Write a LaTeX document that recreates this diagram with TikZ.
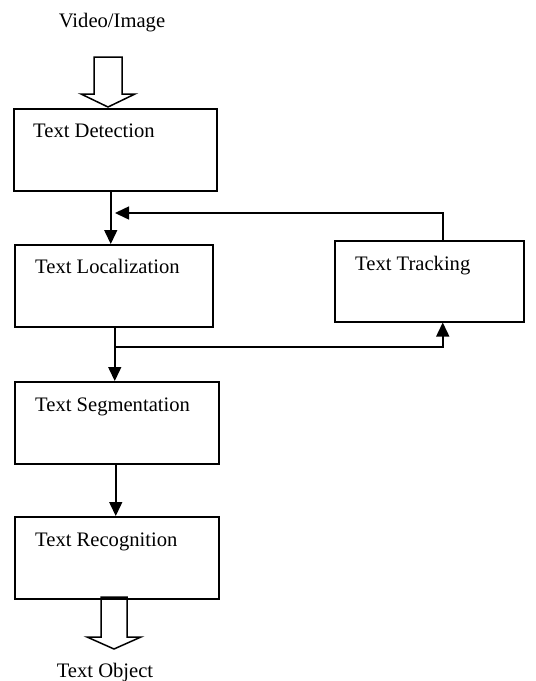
\documentclass[tikz,border=0pt]{standalone}
\usepackage{fontspec}
\setmainfont{Liberation Serif}
\usetikzlibrary{arrows.meta}

\begin{document}
\begin{tikzpicture}[x=1pt, y=-1pt,
  stage/.style={draw, line width=1.5pt, minimum width=#1, minimum height=82pt, anchor=north west, inner sep=0pt},
  caption/.style={font=\fontsize{20.6}{24}\selectfont, inner sep=0pt},
  flow/.style={line width=1.5pt, -{Triangle[length=14pt,width=13pt]}},
  hollow/.style={line width=1.5pt, line join=miter}]
  \useasboundingbox (0,0) rectangle (536,681);

  % stages
  \node[stage=203pt] (det) at (13,108) {};
  \node[stage=198pt] (loc) at (14,244) {};
  \node[stage=204pt] (seg) at (14,381) {};
  \node[stage=204pt] (rec) at (14,516) {};
  \node[stage=189pt, minimum height=81pt] (trk) at (334,240) {};

  \node[caption, anchor=base west] (detT) at (33,137) {Text Detection};
  \node[caption, anchor=base west] (locT) at (35,273) {Text Localization};
  \node[caption, anchor=base west] (segT) at (35,411) {Text Segmentation};
  \node[caption, anchor=base west] (recT) at (35,546) {Text Recognition};
  \node[caption, anchor=base west] (trkT) at (355,270) {Text Tracking};

  % input and output
  \node[caption, anchor=base] (vid) at (112,27) {Video/Image};
  \node[caption, anchor=base] (obj) at (105,677) {Text Object};
  \coordinate (inTip) at (108,107);
  \coordinate (outTip) at (114,649);
  \draw[hollow] (inTip) -- ++(-27,-13) -- ++(13,0) -- ++(0,-37) -- ++(28,0)
    -- ++(0,37) -- ++(13,0) -- cycle;
  \draw[hollow] (outTip) -- ++(-27,-12) -- ++(14,0) -- (101,597) -- (127,597)
    -- ++(0,40) -- ++(14,0) -- cycle;

  % connectors
  \coordinate (split) at ([xshift=1pt]loc.south |- 0,347);
  \coordinate (fb) at (115,213);
  \draw[flow] ([xshift=-4.5pt]det.south) -- ([xshift=-4.5pt]det.south |- loc.north);
  \draw[line width=1.5pt] ([xshift=1pt]loc.south) -- (split);
  \draw[flow] (split) -- (split |- seg.north);
  \draw[flow] (split) -| ([xshift=13.5pt]trk.south);
  \draw[flow] ([xshift=13.5pt]trk.north) |- (fb);
  \draw[flow] ([xshift=-1pt]seg.south) -- ([xshift=-1pt]seg.south |- rec.north);
\end{tikzpicture}
\end{document}
